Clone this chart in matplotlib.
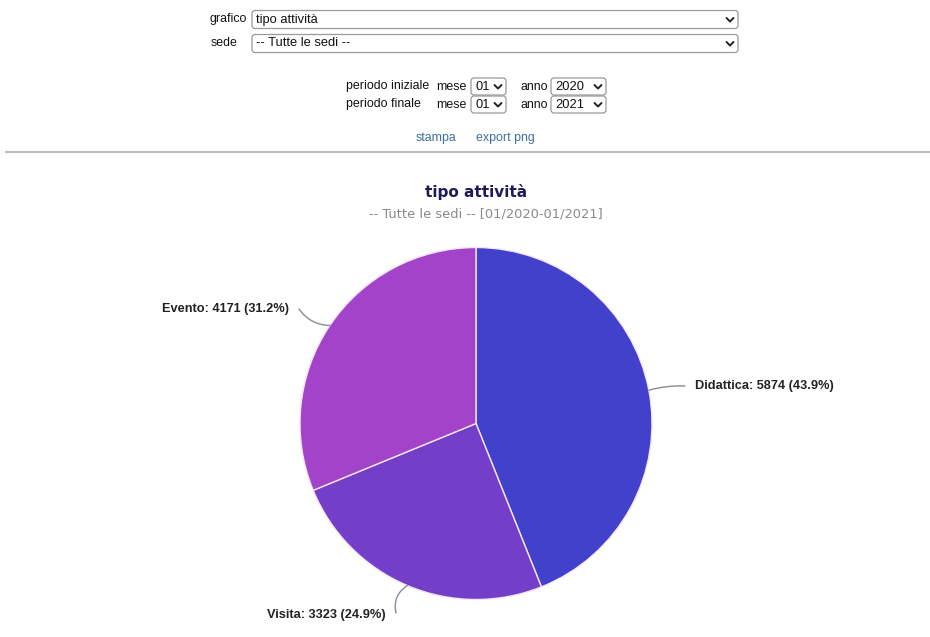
import matplotlib
matplotlib.use("Agg")
import matplotlib.pyplot as plt
from matplotlib.patches import FancyBboxPatch
from matplotlib.lines import Line2D
import numpy as np

# ---- data ----
categories = ["Didattica", "Visita", "Evento"]
values = [5874, 3323, 4171]
percent_labels = ["43.9%", "24.9%", "31.2%"]
colors = ["#4141CB", "#733FC9", "#A243CA"]
title = "tipo attività"
subtitle = "-- Tutte le sedi -- [01/2020-01/2021]"

W, H = 930, 637
fig = plt.figure(figsize=(W / 100, H / 100), dpi=100)
ax = fig.add_axes([0, 0, 1, 1])

def Y(yp):
    return H - yp

FAM = ["Liberation Sans", "DejaVu Sans"]
FORM = dict(family=FAM, fontsize=8.9, color="#111111")
BOXTXT = dict(family=FAM, fontsize=9.3, color="#111111")

def select_box(x0, x1, y0, y1, text):
    p = FancyBboxPatch((x0, Y(y1)), x1 - x0, y1 - y0,
                       boxstyle="round,pad=0,rounding_size=3",
                       fc="white", ec="#9a9a9a", lw=0.9)
    ax.add_patch(p)
    yc = (y0 + y1) / 2
    ax.text(x0 + 4, Y(yc), text, ha="left", va="center", **BOXTXT)
    cx = x1 - 8
    ax.add_line(Line2D([cx - 3.5, cx, cx + 3.5], [Y(yc - 1.5), Y(yc + 2), Y(yc - 1.5)],
                       color="#222222", lw=1.4, solid_capstyle="round"))

# pie
cx, cy, R = 476, Y(423.5), 176
wedges, _ = ax.pie(values, colors=colors, startangle=90, counterclock=False,
                   center=(cx, cy), radius=R, frame=True,
                   wedgeprops=dict(edgecolor="#f4e6f4", linewidth=1.0))
ax.set_xlim(0, W)
ax.set_ylim(0, H)
ax.set_aspect("auto")
ax.axis("off")

# form rows
ax.text(247, Y(19), "grafico", ha="right", va="center", **FORM)
select_box(252, 738, 10.5, 28.5, "tipo attività")
ax.text(211, Y(43.5), "sede", ha="left", va="center", **FORM)
select_box(252, 738, 34.5, 52.5, "-- Tutte le sedi --")

for yc, lab, anno in [(86.5, "periodo iniziale", "2020"), (104.5, "periodo finale", "2021")]:
    ax.text(346, Y(yc), lab, ha="left", va="center", **FORM)
    ax.text(436, Y(yc), "mese", ha="left", va="center", **FORM)
    select_box(471, 506, yc - 8.5, yc + 8.5, "01")
    ax.text(520, Y(yc), "anno", ha="left", va="center", **FORM)
    select_box(551, 606, yc - 8.5, yc + 8.5, anno)

LINK = dict(family=FAM, fontsize=8.9, color="#3d6e9e")
ax.text(416, Y(138), "stampa", ha="left", va="center", **LINK)
ax.text(476, Y(138), "export png", ha="left", va="center", **LINK)
ax.add_line(Line2D([6, 930], [Y(152), Y(152)], color="#bdbdbd", lw=1.5))

# titles
ax.text(476, Y(192), title, ha="center", va="center", fontsize=11,
        fontweight="bold", color="#1c1c5c", family="DejaVu Sans")
ax.text(486, Y(214), subtitle, ha="center", va="center", fontsize=9.4,
        color="#8a8a8a", family="DejaVu Sans")

label_pos = {"Didattica": (695, 386, "left", 0.08),
             "Visita": (386, 615, "right", -0.35),
             "Evento": (289, 309, "right", 0.25)}
for w, cat, v, pct in zip(wedges, categories, values, percent_labels):
    ang = np.deg2rad((w.theta1 + w.theta2) / 2)
    ex, ey = cx + R * np.cos(ang), cy + R * np.sin(ang)
    tx, ty, ha, rad = label_pos[cat]
    lx = tx - 10 if ha == "left" else tx + 10
    ax.annotate("", xy=(ex, ey), xytext=(lx, Y(ty - 2 if cat == "Visita" else ty)),
                arrowprops=dict(arrowstyle="-", color="#8a8a9a", lw=1.0,
                                connectionstyle=f"arc3,rad={rad}",
                                shrinkA=0, shrinkB=0))
    ax.text(tx, Y(ty), f"{cat}: {v} ({pct})", ha=ha, va="center",
            fontsize=9.2, fontweight="bold", color="#222222", family=FAM)

fig.savefig("out.png", dpi=100)
